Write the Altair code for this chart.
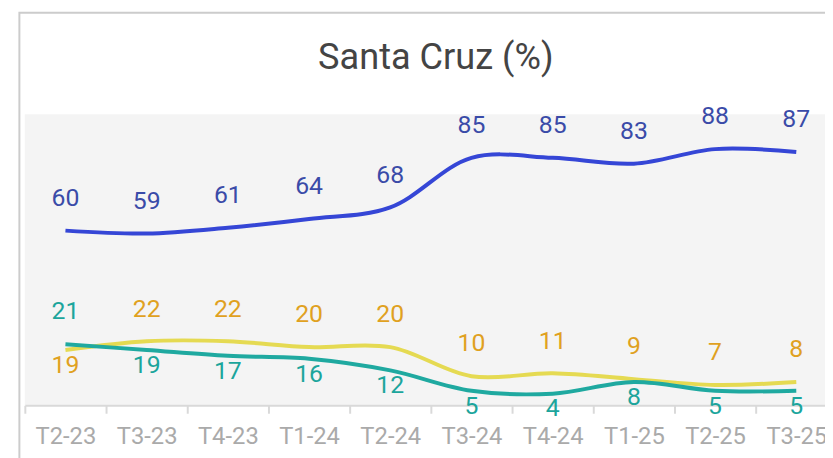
import altair as alt
import pandas as pd

periods = ["T2-23", "T3-23", "T4-23", "T1-24", "T2-24", "T3-24", "T4-24", "T1-25", "T2-25", "T3-25"]
series_names = ["Serie azul", "Serie amarilla", "Serie verde"]
blue_values = [60, 59, 61, 64, 68, 85, 85, 83, 88, 87]
yellow_values = [19, 22, 22, 20, 20, 10, 11, 9, 7, 8]
teal_values = [21, 19, 17, 16, 12, 5, 4, 8, 5, 5]
line_colors = ["#3546d6", "#e5da52", "#1fa9a0"]
text_colors = ["#3a4ba8", "#e0a11f", "#1ca59c"]
chart_title = "Santa Cruz (%)"

rows = []
for i, p in enumerate(periods):
    b, y, t = blue_values[i], yellow_values[i], teal_values[i]
    rows.append({"periodo": p, "serie": series_names[0], "valor": b, "pos": "above"})
    rows.append({"periodo": p, "serie": series_names[1], "valor": y, "pos": "above" if y > t else "below"})
    rows.append({"periodo": p, "serie": series_names[2], "valor": t, "pos": "above" if t > y else "below"})
df = pd.DataFrame(rows)

FONT = "Roboto"

x_enc = alt.X(
    "periodo:N",
    sort=periods,
    bandPosition=0.5,
    title=None,
    scale=alt.Scale(type="band", range=[0, 820], paddingInner=0, paddingOuter=0),
    axis=alt.Axis(
        tickBand="extent",
        domainColor="#d9d9d9",
        domainWidth=2,
        tickColor="#d9d9d9",
        tickWidth=2,
        tickSize=8,
        labelColor="#aaaaaa",
        labelFont=FONT,
        labelFontSize=24,
        labelPadding=12,
        labelAngle=0,
        grid=False,
    ),
)
y_enc = alt.Y("valor:Q", scale=alt.Scale(domain=[0, 100]), axis=None)

base = alt.Chart(df)

lines = base.mark_line(interpolate="catmull-rom", strokeWidth=4).encode(
    x=x_enc,
    y=y_enc,
    color=alt.Color("serie:N", scale=alt.Scale(domain=series_names, range=line_colors), legend=None),
    detail="serie:N",
)

text_color = alt.Color("serie:N", scale=alt.Scale(domain=series_names, range=text_colors), legend=None)

above = base.transform_filter(alt.datum.pos == "above").mark_text(
    font=FONT, fontSize=25, dy=-33, baseline="middle"
).encode(x=x_enc, y=y_enc, text="valor:Q", color=text_color)

below = base.transform_filter(alt.datum.pos == "below").mark_text(
    font=FONT, fontSize=25, dy=15, baseline="middle"
).encode(x=x_enc, y=y_enc, text="valor:Q", color=text_color)

single = pd.DataFrame({"t": [chart_title]})

frame = alt.Chart(single).mark_rect(
    filled=False, stroke="#cccccc", strokeWidth=2
).encode(
    x=alt.value(-5.5), x2=alt.value(1000), y=alt.value(-102.5), y2=alt.value(600)
)

title_mark = alt.Chart(single).mark_text(
    font=FONT, fontSize=36.5, color="#444444", align="center", baseline="alphabetic"
).encode(x=alt.value(415), y=alt.value(-46), text="t:N")

chart = alt.layer(lines, above, below, frame, title_mark).resolve_scale(color="independent").properties(
    width=808,
    height=294,
    autosize=alt.AutoSizeParams(type="none"),
    padding={"left": 17, "top": 105, "right": 0, "bottom": 51},
    background="white",
).configure_view(fill="#f4f4f4", strokeWidth=0, stroke="transparent")

chart.save("out.html", embed_options={"renderer": "svg", "actions": False})
